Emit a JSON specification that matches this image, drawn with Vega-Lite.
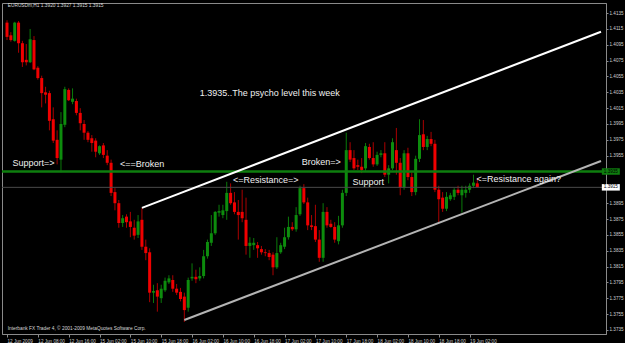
{
 "$schema": "https://vega.github.io/schema/vega-lite/v6.json",
 "width": 604, "height": 331,
 "autosize": {"type": "none"},
 "padding": {"left": 2, "top": 3, "right": 19, "bottom": 9},
 "background": "#000000",
 "config": {"view": {"stroke": "#8a8a8a", "strokeWidth": 1}, "font": "Liberation Sans", "axis": {"grid": false, "labelOverlap": false, "labelFontSize": 4.6, "labelFlush": false, "labelBound": false}},
 "datasets": {
  "candles": [
   {"i":0,"o":1.4123,"h":1.4126,"l":1.4101,"c":1.4105},
   {"i":1,"o":1.4107,"h":1.4111,"l":1.4099,"c":1.4101},
   {"i":2,"o":1.4100,"h":1.4124,"l":1.4099,"c":1.4123},
   {"i":3,"o":1.4123,"h":1.4125,"l":1.4085,"c":1.4097},
   {"i":4,"o":1.4097,"h":1.4100,"l":1.4067,"c":1.4073},
   {"i":5,"o":1.4076,"h":1.4096,"l":1.4069,"c":1.4073},
   {"i":6,"o":1.4073,"h":1.4115,"l":1.4072,"c":1.4102},
   {"i":7,"o":1.4101,"h":1.4106,"l":1.4063,"c":1.4064},
   {"i":8,"o":1.4066,"h":1.4068,"l":1.4051,"c":1.4053},
   {"i":9,"o":1.4053,"h":1.4056,"l":1.4016,"c":1.4034},
   {"i":10,"o":1.4035,"h":1.4042,"l":1.4021,"c":1.4032},
   {"i":11,"o":1.4034,"h":1.4037,"l":1.3987,"c":1.3999},
   {"i":12,"o":1.4001,"h":1.4016,"l":1.3971,"c":1.3974},
   {"i":13,"o":1.3975,"h":1.3987,"l":1.3944,"c":1.3952},
   {"i":14,"o":1.3950,"h":1.4010,"l":1.3934,"c":1.3995},
   {"i":15,"o":1.3994,"h":1.4042,"l":1.3991,"c":1.4039},
   {"i":16,"o":1.4038,"h":1.4040,"l":1.4024,"c":1.4025},
   {"i":17,"o":1.4023,"h":1.4040,"l":1.4020,"c":1.4027},
   {"i":18,"o":1.4024,"h":1.4027,"l":1.4006,"c":1.4009},
   {"i":19,"o":1.4009,"h":1.4015,"l":1.3987,"c":1.3996},
   {"i":20,"o":1.3995,"h":1.4000,"l":1.3975,"c":1.3984},
   {"i":21,"o":1.3984,"h":1.3986,"l":1.3972,"c":1.3975},
   {"i":22,"o":1.3977,"h":1.3981,"l":1.3960,"c":1.3971},
   {"i":23,"o":1.3974,"h":1.3977,"l":1.3953,"c":1.3960},
   {"i":24,"o":1.3958,"h":1.3968,"l":1.3956,"c":1.3967},
   {"i":25,"o":1.3968,"h":1.3971,"l":1.3952,"c":1.3956},
   {"i":26,"o":1.3955,"h":1.3962,"l":1.3943,"c":1.3946},
   {"i":27,"o":1.3946,"h":1.3950,"l":1.3904,"c":1.3908},
   {"i":28,"o":1.3909,"h":1.3914,"l":1.3886,"c":1.3895},
   {"i":29,"o":1.3895,"h":1.3899,"l":1.3864,"c":1.3870},
   {"i":30,"o":1.3870,"h":1.3880,"l":1.3865,"c":1.3876},
   {"i":31,"o":1.3878,"h":1.3881,"l":1.3864,"c":1.3871},
   {"i":32,"o":1.3872,"h":1.3884,"l":1.3852,"c":1.3865},
   {"i":33,"o":1.3864,"h":1.3874,"l":1.3849,"c":1.3854},
   {"i":34,"o":1.3855,"h":1.3880,"l":1.3851,"c":1.3872},
   {"i":35,"o":1.3874,"h":1.3889,"l":1.3836,"c":1.3840},
   {"i":36,"o":1.3840,"h":1.3849,"l":1.3823,"c":1.3832},
   {"i":37,"o":1.3833,"h":1.3838,"l":1.3770,"c":1.3782},
   {"i":38,"o":1.3782,"h":1.3792,"l":1.3769,"c":1.3784},
   {"i":39,"o":1.3785,"h":1.3794,"l":1.3758,"c":1.3777},
   {"i":40,"o":1.3775,"h":1.3792,"l":1.3769,"c":1.3787},
   {"i":41,"o":1.3785,"h":1.3801,"l":1.3783,"c":1.3797},
   {"i":42,"o":1.3795,"h":1.3804,"l":1.3793,"c":1.3800},
   {"i":43,"o":1.3798,"h":1.3804,"l":1.3783,"c":1.3787},
   {"i":44,"o":1.3787,"h":1.3793,"l":1.3779,"c":1.3782},
   {"i":45,"o":1.3783,"h":1.3788,"l":1.3771,"c":1.3774},
   {"i":46,"o":1.3777,"h":1.3782,"l":1.3745,"c":1.3760},
   {"i":47,"o":1.3763,"h":1.3801,"l":1.3758,"c":1.3798},
   {"i":48,"o":1.3800,"h":1.3819,"l":1.3797,"c":1.3802},
   {"i":49,"o":1.3802,"h":1.3811,"l":1.3794,"c":1.3799},
   {"i":50,"o":1.3800,"h":1.3814,"l":1.3797,"c":1.3803},
   {"i":51,"o":1.3803,"h":1.3836,"l":1.3800,"c":1.3828},
   {"i":52,"o":1.3828,"h":1.3849,"l":1.3825,"c":1.3846},
   {"i":53,"o":1.3845,"h":1.3880,"l":1.3841,"c":1.3857},
   {"i":54,"o":1.3857,"h":1.3885,"l":1.3855,"c":1.3884},
   {"i":55,"o":1.3883,"h":1.3893,"l":1.3878,"c":1.3885},
   {"i":56,"o":1.3880,"h":1.3893,"l":1.3876,"c":1.3886},
   {"i":57,"o":1.3885,"h":1.3922,"l":1.3874,"c":1.3908},
   {"i":58,"o":1.3908,"h":1.3920,"l":1.3893,"c":1.3895},
   {"i":59,"o":1.3896,"h":1.3909,"l":1.3881,"c":1.3884},
   {"i":60,"o":1.3884,"h":1.3899,"l":1.3849,"c":1.3880},
   {"i":61,"o":1.3884,"h":1.3912,"l":1.3871,"c":1.3876},
   {"i":62,"o":1.3874,"h":1.3902,"l":1.3830,"c":1.3841},
   {"i":63,"o":1.3841,"h":1.3852,"l":1.3826,"c":1.3845},
   {"i":64,"o":1.3842,"h":1.3851,"l":1.3836,"c":1.3845},
   {"i":65,"o":1.3842,"h":1.3846,"l":1.3826,"c":1.3838},
   {"i":66,"o":1.3837,"h":1.3841,"l":1.3830,"c":1.3833},
   {"i":67,"o":1.3833,"h":1.3837,"l":1.3828,"c":1.3832},
   {"i":68,"o":1.3832,"h":1.3836,"l":1.3823,"c":1.3827},
   {"i":69,"o":1.3830,"h":1.3833,"l":1.3804,"c":1.3814},
   {"i":70,"o":1.3814,"h":1.3852,"l":1.3812,"c":1.3832},
   {"i":71,"o":1.3833,"h":1.3845,"l":1.3831,"c":1.3842},
   {"i":72,"o":1.3840,"h":1.3864,"l":1.3837,"c":1.3852},
   {"i":73,"o":1.3852,"h":1.3878,"l":1.3849,"c":1.3865},
   {"i":74,"o":1.3865,"h":1.3871,"l":1.3860,"c":1.3862},
   {"i":75,"o":1.3862,"h":1.3890,"l":1.3859,"c":1.3880},
   {"i":76,"o":1.3881,"h":1.3917,"l":1.3879,"c":1.3914},
   {"i":77,"o":1.3914,"h":1.3919,"l":1.3894,"c":1.3896},
   {"i":78,"o":1.3896,"h":1.3902,"l":1.3861,"c":1.3867},
   {"i":79,"o":1.3867,"h":1.3880,"l":1.3861,"c":1.3865},
   {"i":80,"o":1.3866,"h":1.3893,"l":1.3846,"c":1.3849},
   {"i":81,"o":1.3849,"h":1.3861,"l":1.3821,"c":1.3826},
   {"i":82,"o":1.3826,"h":1.3895,"l":1.3821,"c":1.3884},
   {"i":83,"o":1.3884,"h":1.3890,"l":1.3864,"c":1.3867},
   {"i":84,"o":1.3869,"h":1.3874,"l":1.3864,"c":1.3865},
   {"i":85,"o":1.3865,"h":1.3871,"l":1.3845,"c":1.3849},
   {"i":86,"o":1.3847,"h":1.3879,"l":1.3843,"c":1.3867},
   {"i":87,"o":1.3867,"h":1.3912,"l":1.3864,"c":1.3908},
   {"i":88,"o":1.3908,"h":1.3984,"l":1.3904,"c":1.3962},
   {"i":89,"o":1.3962,"h":1.3972,"l":1.3947,"c":1.3950},
   {"i":90,"o":1.3952,"h":1.3962,"l":1.3937,"c":1.3939},
   {"i":91,"o":1.3943,"h":1.3950,"l":1.3937,"c":1.3941},
   {"i":92,"o":1.3941,"h":1.3952,"l":1.3933,"c":1.3937},
   {"i":93,"o":1.3939,"h":1.3971,"l":1.3936,"c":1.3967},
   {"i":94,"o":1.3966,"h":1.3970,"l":1.3950,"c":1.3952},
   {"i":95,"o":1.3952,"h":1.3972,"l":1.3941,"c":1.3944},
   {"i":96,"o":1.3944,"h":1.3960,"l":1.3942,"c":1.3956},
   {"i":97,"o":1.3956,"h":1.3962,"l":1.3953,"c":1.3958},
   {"i":98,"o":1.3958,"h":1.3972,"l":1.3928,"c":1.3931},
   {"i":99,"o":1.3931,"h":1.3943,"l":1.3920,"c":1.3939},
   {"i":100,"o":1.3939,"h":1.3977,"l":1.3937,"c":1.3972},
   {"i":101,"o":1.3962,"h":1.3990,"l":1.3931,"c":1.3946},
   {"i":102,"o":1.3946,"h":1.3952,"l":1.3905,"c":1.3915},
   {"i":103,"o":1.3915,"h":1.3962,"l":1.3912,"c":1.3958},
   {"i":104,"o":1.3958,"h":1.3965,"l":1.3924,"c":1.3928},
   {"i":105,"o":1.3928,"h":1.3934,"l":1.3904,"c":1.3909},
   {"i":106,"o":1.3909,"h":1.3955,"l":1.3905,"c":1.3951},
   {"i":107,"o":1.3951,"h":1.4001,"l":1.3947,"c":1.3981},
   {"i":108,"o":1.3982,"h":1.4000,"l":1.3962,"c":1.3966},
   {"i":109,"o":1.3966,"h":1.3980,"l":1.3962,"c":1.3976},
   {"i":110,"o":1.3976,"h":1.3985,"l":1.3967,"c":1.3970},
   {"i":111,"o":1.3970,"h":1.3975,"l":1.3909,"c":1.3912},
   {"i":112,"o":1.3912,"h":1.3917,"l":1.3871,"c":1.3900},
   {"i":113,"o":1.3902,"h":1.3909,"l":1.3884,"c":1.3888},
   {"i":114,"o":1.3888,"h":1.3909,"l":1.3885,"c":1.3903},
   {"i":115,"o":1.3900,"h":1.3908,"l":1.3898,"c":1.3905},
   {"i":116,"o":1.3903,"h":1.3914,"l":1.3899,"c":1.3912},
   {"i":117,"o":1.3912,"h":1.3917,"l":1.3905,"c":1.3908},
   {"i":118,"o":1.3905,"h":1.3917,"l":1.3883,"c":1.3912},
   {"i":119,"o":1.3908,"h":1.3917,"l":1.3902,"c":1.3912},
   {"i":120,"o":1.3912,"h":1.3920,"l":1.3908,"c":1.3917},
   {"i":121,"o":1.3917,"h":1.3931,"l":1.3914,"c":1.3921},
   {"i":122,"o":1.3920,"h":1.3927,"l":1.3915,"c":1.3915}
  ],
  "levels": [
   {"name":"hline","p":1.3935,"t":"1.3935"},
   {"name":"bid","p":1.3915,"t":"1.3915"}
  ],
  "trend": [
   {"line":"upper","i":35,"p":1.3889},
   {"line":"upper","i":154.08,"p":1.41115},
   {"line":"lower","i":46,"p":1.37475},
   {"line":"lower","i":154.08,"p":1.39483}
  ],
  "notes": [
   {"i":50.0,"p":1.4034,"t":"1.3935..The psycho level this week"},
   {"i":1.45,"p":1.3946,"t":"Support=>"},
   {"i":29.3,"p":1.3944,"t":"<==Broken"},
   {"i":58.6,"p":1.3924,"t":"<=Resistance=>"},
   {"i":76.45,"p":1.3947,"t":"Broken=>"},
   {"i":89.6,"p":1.3922,"t":"Support"},
   {"i":121.8,"p":1.3925,"t":"<=Resistance again?"}
  ],
  "meta": [
   {"i":0.2,"p":1.4144,"t":"EURUSDm,H1  1.3920 1.3927 1.3915 1.3915"},
   {"i":0.2,"p":1.37361,"t":"Interbank FX Trader 4, © 2001-2009 MetaQuotes Software Corp."}
  ]
 },
 "layer": [
  {
   "data": {"name": "candles"},
   "mark": {"type": "rule", "strokeWidth": 1},
   "encoding": {
    "x": {"field": "i", "type": "quantitative", "scale": {"domain": [0, 154.08], "nice": false, "zero": false},
     "axis": {"orient": "bottom", "title": null, "values": [0,8,16,24,32,40,48,56,64,72,80,88,96,104,112,120], "tickCount": 40,
      "labelExpr": "['12 Jun 2009','12 Jun 08:00','12 Jun 16:00','15 Jun 02:00','15 Jun 10:00','15 Jun 18:00','16 Jun 02:00','16 Jun 10:00','16 Jun 18:00','17 Jun 02:00','17 Jun 10:00','17 Jun 18:00','18 Jun 02:00','18 Jun 10:00','18 Jun 18:00','19 Jun 02:00'][round(datum.value/8)]",
      "grid": false, "domainColor": "#8a8a8a", "tickColor": "#8a8a8a", "tickSize": 3, "labelColor": "#d0d0d0",
      "labelFontSize": 4.6, "labelAlign": "left", "labelBaseline": "top", "labelPadding": 1, "labelOverlap": false,
      "labelFlush": false, "labelBound": false, "labelFont": "Liberation Sans"}},
    "y": {"field": "h", "type": "quantitative", "scale": {"domain": [1.37298, 1.41478], "nice": false, "zero": false},
     "axis": {"orient": "right", "title": null, "format": ".4f", "tickCount": 40,
      "values": [1.3735,1.3755,1.3775,1.3795,1.3815,1.3835,1.3855,1.3875,1.3895,1.3955,1.3975,1.3995,1.4015,1.4035,1.4055,1.4075,1.4095,1.4115,1.4135],
      "grid": false, "domainColor": "#8a8a8a", "tickColor": "#8a8a8a", "tickSize": 2, "labelPadding": 1,
      "labelColor": "#d0d0d0", "labelFontSize": 4.6, "labelOverlap": false, "labelFlush": false, "labelBound": false, "labelFont": "Liberation Sans"}},
    "y2": {"field": "l"},
    "color": {"condition": {"test": "datum.c >= datum.o", "value": "#0a7a0a"}, "value": "#aa0000"}
   }
  },
  {
   "data": {"name": "candles"},
   "mark": {"type": "bar", "width": 3},
   "encoding": {
    "x": {"field": "i", "type": "quantitative", "scale": {"domain": [0, 154.08], "nice": false, "zero": false}},
    "y": {"field": "o", "type": "quantitative", "scale": {"domain": [1.37298, 1.41478], "nice": false, "zero": false}},
    "y2": {"field": "c"},
    "color": {"condition": {"test": "datum.c >= datum.o", "value": "#0d8c0d"}, "value": "#f00000"}
   }
  },
  {
   "data": {"name": "levels"},
   "transform": [{"filter": "datum.name == 'bid'"}],
   "mark": {"type": "rule", "strokeWidth": 1, "color": "#4a4a4a"},
   "encoding": {
    "y": {"field": "p", "type": "quantitative", "scale": {"domain": [1.37298, 1.41478], "nice": false, "zero": false}}
   }
  },
  {
   "data": {"name": "levels"},
   "transform": [{"filter": "datum.name == 'hline'"}],
   "mark": {"type": "rule", "strokeWidth": 2.5, "color": "#0e7e0e"},
   "encoding": {
    "y": {"field": "p", "type": "quantitative", "scale": {"domain": [1.37298, 1.41478], "nice": false, "zero": false}}
   }
  },
  {
   "data": {"name": "trend"},
   "mark": {"type": "line", "strokeWidth": 2, "clip": true},
   "encoding": {
    "x": {"field": "i", "type": "quantitative", "scale": {"domain": [0, 154.08], "nice": false, "zero": false}},
    "y": {"field": "p", "type": "quantitative", "scale": {"domain": [1.37298, 1.41478], "nice": false, "zero": false}},
    "detail": {"field": "line"},
    "color": {"condition": {"test": "datum.line == 'upper'", "value": "#ffffff"}, "value": "#b4b4b4"}
   }
  },
  {
   "data": {"name": "notes"},
   "mark": {"type": "text", "align": "left", "baseline": "middle", "fontSize": 9, "font": "Liberation Sans", "color": "#f0f0f0"},
   "encoding": {
    "x": {"field": "i", "type": "quantitative", "scale": {"domain": [0, 154.08], "nice": false, "zero": false}},
    "y": {"field": "p", "type": "quantitative", "scale": {"domain": [1.37298, 1.41478], "nice": false, "zero": false}},
    "text": {"field": "t"}
   }
  },
  {
   "data": {"name": "meta"},
   "mark": {"type": "text", "align": "left", "baseline": "middle", "fontSize": 4.8, "font": "Liberation Sans", "color": "#d8d8d8"},
   "encoding": {
    "x": {"field": "i", "type": "quantitative", "scale": {"domain": [0, 154.08], "nice": false, "zero": false}},
    "y": {"field": "p", "type": "quantitative", "scale": {"domain": [1.37298, 1.41478], "nice": false, "zero": false}},
    "text": {"field": "t"}
   }
  },
  {
   "data": {"name": "levels"},
   "mark": {"type": "point", "filled": true, "opacity": 1, "size": 324, "shape": "M-1,-0.36L1,-0.36L1,0.36L-1,0.36Z"},
   "encoding": {
    "x": {"datum": 156.63, "type": "quantitative", "scale": {"domain": [0, 154.08], "nice": false, "zero": false}},
    "y": {"field": "p", "type": "quantitative", "scale": {"domain": [1.37298, 1.41478], "nice": false, "zero": false}},
    "color": {"condition": {"test": "datum.name == 'hline'", "value": "#0e7e0e"}, "value": "#ffffff"}
   }
  },
  {
   "data": {"name": "levels"},
   "mark": {"type": "text", "align": "center", "baseline": "middle", "fontSize": 4.6, "font": "Liberation Sans", "color": "#000000"},
   "encoding": {
    "x": {"datum": 156.63, "type": "quantitative", "scale": {"domain": [0, 154.08], "nice": false, "zero": false}},
    "y": {"field": "p", "type": "quantitative", "scale": {"domain": [1.37298, 1.41478], "nice": false, "zero": false}},
    "text": {"field": "t"}
   }
  }
 ]
}
